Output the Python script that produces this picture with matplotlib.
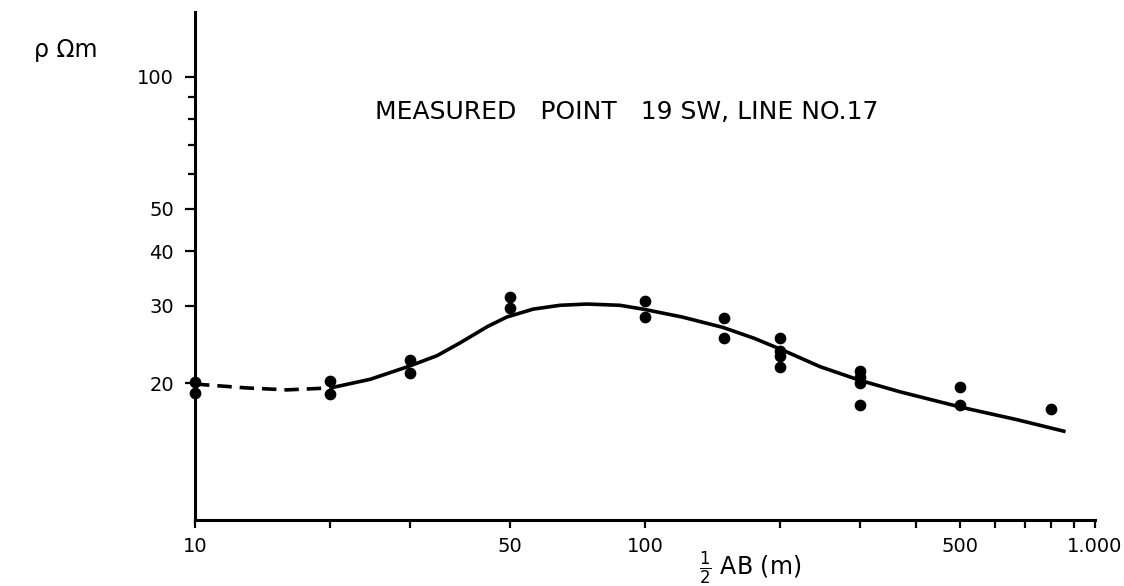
import matplotlib
matplotlib.use("Agg")
import matplotlib.pyplot as plt
from matplotlib.ticker import FixedLocator, FixedFormatter, NullFormatter

# measured apparent resistivity (half electrode spacing in m, rho in ohm-m)
meas_x = [10, 10, 20, 20, 30, 30, 50, 50, 100, 100,
          150, 150, 200, 200, 200, 200,
          300, 300, 300, 300, 500, 500, 800]
meas_rho = [20.1, 19.0, 20.2, 18.9, 22.6, 21.1, 31.4, 29.6, 30.8, 28.3,
            28.2, 25.4, 25.4, 23.7, 23.1, 21.8,
            21.3, 20.6, 20.0, 17.8, 19.6, 17.8, 17.5]

# interpreted curve, dashed part (extrapolated) and solid part
dash_x = [10, 13, 16, 20]
dash_rho = [19.9, 19.5, 19.3, 19.5]
curve_x = [20, 24.5, 29.7, 34.5, 38.8, 44.6, 49.3, 56.4, 64.7, 74.3, 88,
           99, 121, 149, 175, 202, 245, 300, 369, 506, 671, 860]
curve_rho = [19.5, 20.4, 21.8, 23.1, 24.7, 26.9, 28.3, 29.5, 30.1, 30.3, 30.1,
             29.5, 28.3, 26.8, 25.3, 23.8, 21.8, 20.3, 19.1, 17.6, 16.5, 15.5]

x_ticks = [10, 20, 30, 50, 100, 200, 300, 400, 500, 600, 700, 800, 900, 1000]
x_labels = ["10", "", "", "50", "100", "", "", "", "500", "", "", "", "", "1.000"]
y_ticks = [20, 30, 40, 50, 100]
y_labels = ["20", "30", "40", "50", "100"]
y_minor = [60, 70, 80, 90]

plt.rcParams['font.family'] = ['DejaVu Sans']

fig = plt.figure(figsize=(11.24, 5.86), dpi=100)
ax = fig.add_axes([195 / 1124, 66 / 586, 900 / 1124, 508 / 586])

ax.plot(dash_x, dash_rho, color='black', lw=2.6, ls=(0, (4, 2.2)))
ax.plot(curve_x, curve_rho, color='black', lw=2.6, solid_capstyle='butt',
        solid_joinstyle='round')
ax.scatter(meas_x, meas_rho, s=55, color='black', zorder=3, clip_on=False)

ax.set_xscale('log')
ax.set_yscale('log')
ax.set_xlim(10, 1000)
ax.set_ylim(9.74, 140.6)

ax.xaxis.set_major_locator(FixedLocator(x_ticks))
ax.xaxis.set_major_formatter(FixedFormatter(x_labels))
ax.xaxis.set_minor_locator(FixedLocator([]))
ax.yaxis.set_major_locator(FixedLocator(y_ticks))
ax.yaxis.set_major_formatter(FixedFormatter(y_labels))
ax.yaxis.set_minor_locator(FixedLocator(y_minor))
ax.yaxis.set_minor_formatter(NullFormatter())

ax.spines['top'].set_visible(False)
ax.spines['right'].set_visible(False)
for side in ['left', 'bottom']:
    ax.spines[side].set_linewidth(2.2)

ax.tick_params(axis='both', which='both', direction='out', width=1.6,
               labelsize=14)
ax.tick_params(axis='x', which='major', length=6, pad=6)
ax.tick_params(axis='y', which='major', length=7, pad=8)
ax.tick_params(axis='y', which='minor', length=5)

ax.text(0.48, 0.803, "MEASURED   POINT   19 SW, LINE NO.17",
        transform=ax.transAxes, ha='center', va='center', fontsize=18)
fig.text(0.03, 0.915, "ρ Ωm", fontsize=17, ha='left', va='center')
fig.text(0.622, 0.03, r"$\frac{1}{2}$ AB (m)", fontsize=17, ha='left',
         va='center')

fig.savefig('out.png', dpi=100)
